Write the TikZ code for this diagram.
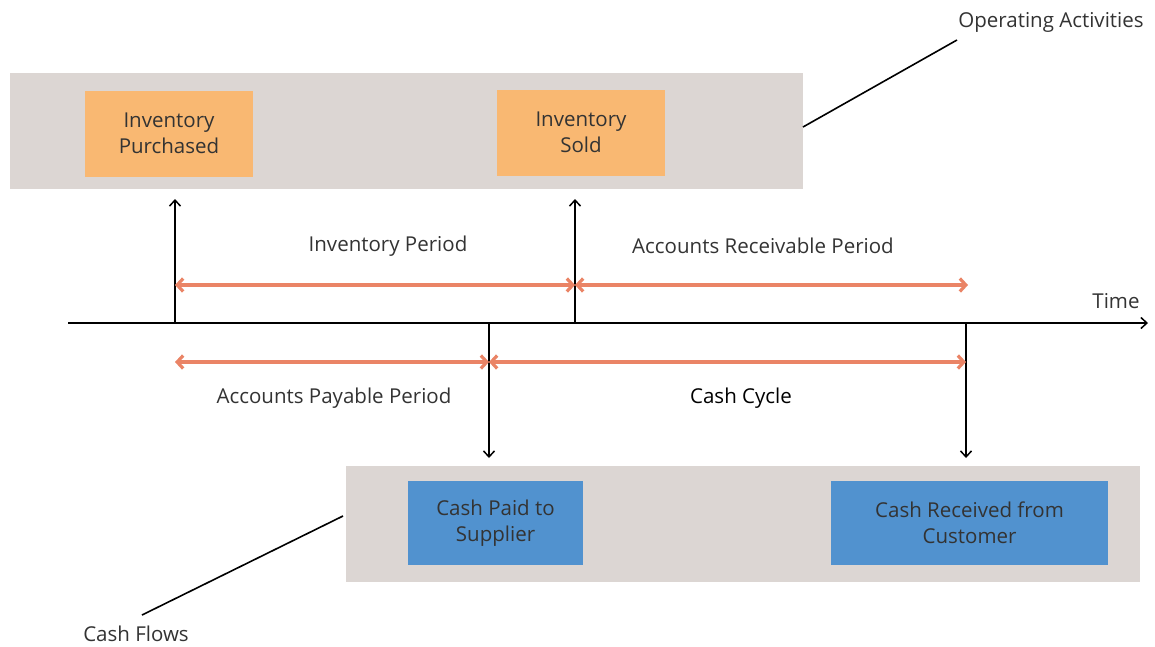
\documentclass[tikz,border=0pt]{standalone}
\usepackage{fontspec}
\setmainfont{Open Sans}
\usetikzlibrary{arrows.meta}
\definecolor{bandgray}{HTML}{DCD6D3}
\definecolor{orangebox}{HTML}{F9B872}
\definecolor{bluebox}{HTML}{5192CF}
\definecolor{redarrow}{HTML}{EA8466}
\definecolor{txt}{HTML}{333333}
\tikzset{
  band/.style={fill=bandgray, draw=none, inner sep=0pt, minimum width=#1, minimum height=116pt},
  obox/.style={fill=orangebox, draw=none, inner sep=0pt, minimum width=168pt, minimum height=86pt, align=center, text=txt, font=\fontsize{20.5}{26}\selectfont},
  bbox/.style={fill=bluebox, draw=none, inner sep=0pt, minimum height=84pt, align=center, text=txt, font=\fontsize{20.5}{26}\selectfont},
  lbl/.style={text=txt, font=\fontsize{20.5}{24}\selectfont, inner sep=0pt},
  blk/.style={draw=black, line width=1.5pt, -{Straight Barb[length=6pt,width=11pt]}},
  redarr/.style={draw=redarrow, line width=3.2pt, {Straight Barb[length=6pt,width=13pt]}-{Straight Barb[length=6pt,width=13pt]}},
  leader/.style={draw=black, line width=1.6pt},
}
\begin{document}
\begin{tikzpicture}[x=1pt,y=-1pt]
\useasboundingbox (0,0) rectangle (1155,646);
% bands
\node[band=793pt] (opband) at (406.5,131) {};
\node[band=794pt] (cfband) at (743,524) {};
% boxes
\node[obox] (invp) at (169,133.5) {Inventory\\Purchased};
\node[obox] (invs) at (581,132.5) {Inventory\\Sold};
\node[bbox, minimum width=175pt] (cps) at (495.5,523) {Cash Paid to\\Supplier};
\node[bbox, minimum width=277pt] (crc) at (969.5,522.5) {Cash Received from\\Customer};
% labels
\node[lbl] (opact) at (1051,22) {Operating Activities};
\node[lbl] (cflows) at (136,634) {Cash Flows};
\node[lbl] (time) at (1116,301) {Time};
\node[lbl] (invper) at (388,246) {Inventory Period};
\node[lbl] (arper) at (763,246) {Accounts Receivable Period};
\node[lbl] (apper) at (334,398) {Accounts Payable Period};
\node[lbl, text=black] (ccyc) at (741,398) {Cash Cycle};
% coordinates
\coordinate (axL) at (68,323);
\coordinate (axR) at (1148,323);
\coordinate (a1) at (175,323);
\coordinate (a1t) at (175,199);
\coordinate (a2) at (575,323);
\coordinate (a2t) at (575,199);
\coordinate (b1) at (489,323);
\coordinate (b1b) at (489,458);
\coordinate (b2) at (966,323);
\coordinate (b2b) at (966,458);
\coordinate (r1) at (175,285);
\coordinate (r2) at (575,285);
\coordinate (r3) at (968,285);
\coordinate (s1) at (175,362);
\coordinate (s2) at (489,362);
\coordinate (s3) at (966,362);
\coordinate (opl1) at (803,127);
\coordinate (opl2) at (957,40);
\coordinate (cfl1) at (343,516);
\coordinate (cfl2) at (142,615);
% axis
\draw[blk] (axL) -- (axR);
\draw[blk] (a1) -- (a1t);
\draw[blk] (a2) -- (a2t);
\draw[blk] (b1) -- (b1b);
\draw[blk] (b2) -- (b2b);
% red period arrows
\draw[redarr] (r1) -- (r2);
\draw[redarr] (r2) -- (r3);
\draw[redarr] (s1) -- (s2);
\draw[redarr] (s2) -- (s3);
% leaders
\draw[leader] (opl1) -- (opl2);
\draw[leader] (cfl1) -- (cfl2);
\end{tikzpicture}
\end{document}
